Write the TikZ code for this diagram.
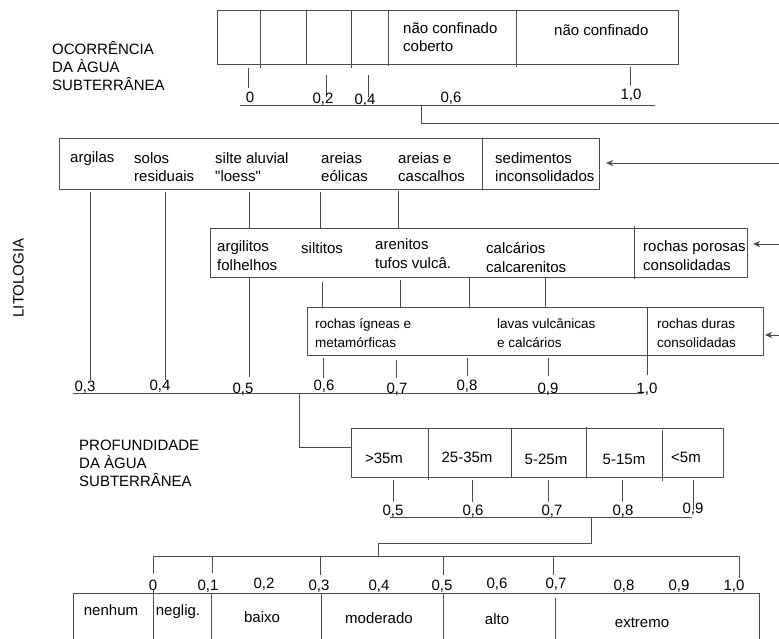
\documentclass[tikz,border=0pt]{standalone}
\usepackage{fontspec}
\setmainfont{Liberation Sans}[Ligatures=TeXOff]
\usetikzlibrary{arrows.meta}

\tikzset{
	box/.style={draw=black!70, line width=0.9pt, inner sep=0pt, outer sep=0pt, anchor=north west},
	edge/.style={draw=black!70, line width=0.9pt},
	arrowline/.style={edge, -{Stealth[length=7pt, width=6pt, inset=2pt]}},
	txt/.style={font=\fontsize{15}{18.5}\selectfont, align=left, inner sep=0pt, anchor=base west},
	smalltxt/.style={txt, font=\fontsize{13.5}{19}\selectfont},
	num/.style={font=\fontsize{15}{18}\selectfont, inner sep=0pt, anchor=base},
	title/.style={txt, font=\fontsize{15}{18}\selectfont}
}

\begin{document}
\begin{tikzpicture}[x=1pt, y=-1pt]

	\useasboundingbox (0,0) rectangle (779,639);

	% Ocorrencia da agua subterranea (text nodes sit on their last baseline)
	\node[title] (occtitle) at (52,91) {OCORRÊNCIA\\DA ÀGUA\\SUBTERRÂNEA};
	\node[box, minimum width=461pt, minimum height=54pt] (occ) at (217,10) {};
	\draw[edge] (260,10) -- (260,68) (306,10) -- (306,65) (351,10) -- (351,68)
		(388,10) -- (388,66) (516,10) -- (516,67);
	\node[txt] (naocob) at (403,52) {não confinado\\coberto};
	\node[txt] (nao) at (554,36) {não confinado};
	\draw[edge] (248,68) -- (248,88) (326,75) -- (326,97) (368,75) -- (368,97) (630,67) -- (630,86);
	\node[num] (o0) at (250,103) {0};
	\node[num] (o2) at (323,104) {0,2};
	\node[num] (o4) at (365,105) {0,4};
	\node[num] (o6) at (451,103) {0,6};
	\node[num] (o10) at (631,100) {1,0};
	\coordinate (occaxisL) at (240,105);
	\coordinate (occaxisR) at (655,105);
	\draw[edge] (occaxisL) -- (occaxisR);
	\coordinate (occout) at (421,105);
	\coordinate (occend) at (779,123);
	\draw[edge] (occout) |- (occend);

	% Litologia
	\node[title, rotate=90, anchor=center] (littitle) at (18.5,278) {LITOLOGIA};

	\node[box, minimum width=540pt, minimum height=51pt] (lit1) at (59,138) {};
	\draw[edge] (482,138) -- (482,190);
	\node[txt] (argilas) at (70,163) {argilas};
	\node[txt] (solos) at (134,182) {solos\\residuais};
	\node[txt] (silte) at (215,182) {silte aluvial\\"loess"};
	\node[txt] (areiaseol) at (321,182) {areias\\eólicas};
	\node[txt] (areiasc) at (398,182) {areias e\\cascalhos};
	\node[txt] (sedim) at (495,182) {sedimentos\\inconsolidados};
	\coordinate (in1) at (779,163);
	\draw[arrowline, shorten >=7pt] (in1) -- (lit1.east |- in1);
	\draw[edge] (90,192) -- (90,380) (165,192) -- (165,380) (249,192) -- (249,228)
		(320,192) -- (320,228) (398,191) -- (398,228);

	\node[box, minimum width=537pt, minimum height=49pt] (lit2) at (210,228) {};
	\draw[edge] (634,226) -- (634,279);
	\node[txt] (argilitos) at (217,270) {argilitos\\folhelhos};
	\node[txt] (siltitos) at (301,253) {siltitos};
	\node[txt] (arenitos) at (375,268) {arenitos\\tufos vulcâ.};
	\node[txt] (calcarios) at (486,272) {calcários\\calcarenitos};
	\node[txt] (porosas) at (643,270) {rochas porosas\\consolidadas};
	\coordinate (in2) at (779,244);
	\draw[arrowline, shorten >=6pt] (in2) -- (lit2.east |- in2);
	\draw[edge] (249,278) -- (249,377) (322,282) -- (322,307) (400,280) -- (400,307)
		(469,277) -- (469,307) (545,277) -- (545,307);

	\node[box, minimum width=456pt, minimum height=48pt] (lit3) at (307,307) {};
	\draw[edge] (647,307) -- (647,375);
	\node[smalltxt] (igneas) at (315,347) {rochas ígneas e\\metamórficas};
	\node[smalltxt] (lavas) at (497,347) {lavas vulcânicas\\e calcários};
	\node[smalltxt] (duras) at (657,347) {rochas duras\\consolidadas};
	\coordinate (in3) at (779,335);
	\draw[arrowline, shorten >=2pt] (in3) -- (lit3.east |- in3);
	\draw[edge] (323,358) -- (323,378) (396,360) -- (396,378) (467,358) -- (467,376) (548,358) -- (548,376);

	\node[num] (l3) at (85,391) {0,3};
	\node[num] (l4) at (160,390) {0,4};
	\node[num] (l5) at (243,393) {0,5};
	\node[num] (l6) at (324,390) {0,6};
	\node[num] (l7) at (397,393) {0,7};
	\node[num] (l8) at (467,390) {0,8};
	\node[num] (l9) at (548,393) {0,9};
	\node[num] (l10) at (647,393) {1,0};
	\coordinate (litaxisL) at (73,393);
	\coordinate (litaxisR) at (643,393);
	\draw[edge] (litaxisL) -- (litaxisR);

	% Profundidade da agua subterranea
	\node[title] (proftitle) at (79,486) {PROFUNDIDADE\\DA ÀGUA\\SUBTERRÂNEA};
	\node[box, minimum width=372pt, minimum height=49pt] (prof) at (351,428) {};
	\draw[edge] (428,428) -- (428,480) (511,428) -- (511,478) (586,427) -- (586,478) (662,430) -- (662,481);
	\coordinate (litout) at (299,393);
	\coordinate (profin) at (351,447);
	\draw[edge] (litout) |- (profin);
	\node[num] (p35) at (384,463) {>35m};
	\node[num] (p2535) at (467,462) {25-35m};
	\node[num] (p525) at (546,464) {5-25m};
	\node[num] (p515) at (624,464) {5-15m};
	\node[num] (p5) at (686,462) {<5m};
	\draw[edge] (393,480) -- (393,502) (472,480) -- (472,502) (548,480) -- (548,502)
		(622,480) -- (622,502) (693,480) -- (693,510);
	\node[num] (q5) at (393,515) {0,5};
	\node[num] (q6) at (473,515) {0,6};
	\node[num] (q7) at (552,515) {0,7};
	\node[num] (q8) at (623,515) {0,8};
	\node[num] (q9) at (693,513) {0,9};
	\coordinate (profaxisL) at (390,517);
	\coordinate (profaxisR) at (692,517);
	\draw[edge] (profaxisL) -- (profaxisR);

	% Resultado
	\coordinate (profout) at (591,517);
	\coordinate (profbend) at (591,543);
	\coordinate (resin) at (378,556);
	\draw[edge] (profout) -- (profbend) -| (resin);
	\coordinate (resaxisL) at (153,556);
	\coordinate (resaxisR) at (740,556);
	\draw[edge] (resaxisL) -- (resaxisR);
	\draw[edge] (153,556) -- (153,574) (212,556) -- (212,573) (320,556) -- (320,575)
		(443,556) -- (443,575) (553,556) -- (553,575) (739,556) -- (739,578);
	\node[num] (r0) at (153,590) {0};
	\node[num] (r1) at (208,590) {0,1};
	\node[num] (r2) at (264,588) {0,2};
	\node[num] (r3) at (319,590) {0,3};
	\node[num] (r4) at (379,590) {0,4};
	\node[num] (r5) at (442,590) {0,5};
	\node[num] (r6) at (497,588) {0,6};
	\node[num] (r7) at (556,588) {0,7};
	\node[num] (r8) at (624,590) {0,8};
	\node[num] (r9) at (679,590) {0,9};
	\node[num] (r10) at (734,590) {1,0};

	\draw[edge] (73,645) -- (73,593) -- (759,593) -- (759,645);
	\draw[edge] (153,590) -- (153,645) (211,593) -- (211,645) (321,593) -- (321,645)
		(443,593) -- (443,645) (555,598) -- (555,645);
	\node[num] (nenhum) at (111,615) {nenhum};
	\node[num] (neglig) at (178,615) {neglig.};
	\node[num] (baixo) at (262,622) {baixo};
	\node[num] (moderado) at (379,623) {moderado};
	\node[num] (alto) at (497,624) {alto};
	\node[num] (extremo) at (642,627) {extremo};

\end{tikzpicture}
\end{document}
